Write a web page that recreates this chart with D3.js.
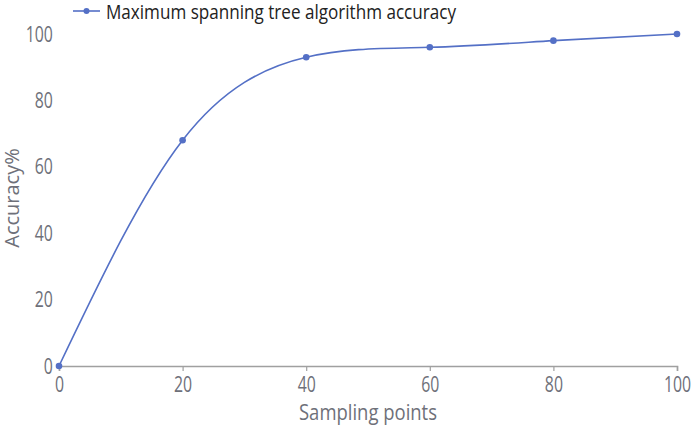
<!DOCTYPE html>
<html><head><meta charset="utf-8">
<script src="https://cdn.jsdelivr.net/npm/d3@7/dist/d3.min.js"></script>
<style>body{margin:0;background:#fff}svg{display:block}text{font-family:"Open Sans","Noto Sans",sans-serif}</style>
</head><body><svg id="c" width="692" height="428"></svg>
<script>
const xValues = [0, 20, 40, 60, 80, 100];
const accuracy = [0, 68, 93, 96, 98, 100];
const xTicks = [0, 20, 40, 60, 80, 100];
const yTicks = [0, 20, 40, 60, 80, 100];
const seriesName = "Maximum spanning tree algorithm accuracy";

const svg = d3.select("#c");
const x = d3.scaleLinear().domain([0, 100]).range([59, 677]);
const y = d3.scaleLinear().domain([0, 100]).range([366, 34]);
const color = "#5470c6";
const grey = "#6e7079";
const tickScale = "scale(0.72,1)";

// x axis
const xa = svg.append("g").attr("transform", "translate(0,366)")
  .call(d3.axisBottom(x).tickValues(xTicks).tickSize(5).tickPadding(5).tickFormat(d3.format("d")));
xa.select(".domain").attr("stroke", "#a0a0a0").attr("stroke-width", 1.6);
xa.selectAll(".tick line").attr("stroke", "#a0a0a0").attr("stroke-width", 1.2);
xa.selectAll("text").attr("fill", grey).attr("font-size", 22).attr("transform", tickScale);

// y axis labels
const ya = svg.append("g").attr("transform", "translate(59,0)")
  .call(d3.axisLeft(y).tickValues(yTicks).tickSize(0).tickPadding(8.5).tickFormat(d3.format("d")));
ya.select(".domain").remove();
ya.selectAll("text").attr("fill", grey).attr("font-size", 22).attr("transform", tickScale);

// titles
svg.append("text").attr("x", x(50)).attr("y", 420).attr("text-anchor", "middle")
  .attr("fill", grey).attr("font-size", 21).attr("textLength", 138).attr("lengthAdjust", "spacingAndGlyphs")
  .text("Sampling points");
svg.append("text").attr("transform", "translate(18.5,198) rotate(-90)").attr("text-anchor", "middle")
  .attr("fill", grey).attr("font-size", 20).text("Accuracy%");

const data = xValues.map((v, i) => [v, accuracy[i]]);
svg.append("path").datum(data)
  .attr("d", d3.line().x(d => x(d[0])).y(d => y(d[1])).curve(d3.curveNatural))
  .attr("fill", "none").attr("stroke", color).attr("stroke-width", 1.6);
svg.selectAll("circle.pt").data(data).enter().append("circle").attr("class", "pt")
  .attr("cx", d => x(d[0])).attr("cy", d => y(d[1])).attr("r", 3.3).attr("fill", color);

// legend
const lg = svg.append("g");
lg.append("line").attr("x1", 73).attr("x2", 100).attr("y1", 11).attr("y2", 11).attr("stroke", color).attr("stroke-width", 1.6);
lg.append("circle").attr("cx", 86.5).attr("cy", 11).attr("r", 3).attr("fill", color);
lg.append("text").attr("x", 106).attr("y", 19).attr("fill", "#222").attr("font-size", 20)
  .attr("textLength", 350).attr("lengthAdjust", "spacingAndGlyphs").text(seriesName);
</script></body></html>
